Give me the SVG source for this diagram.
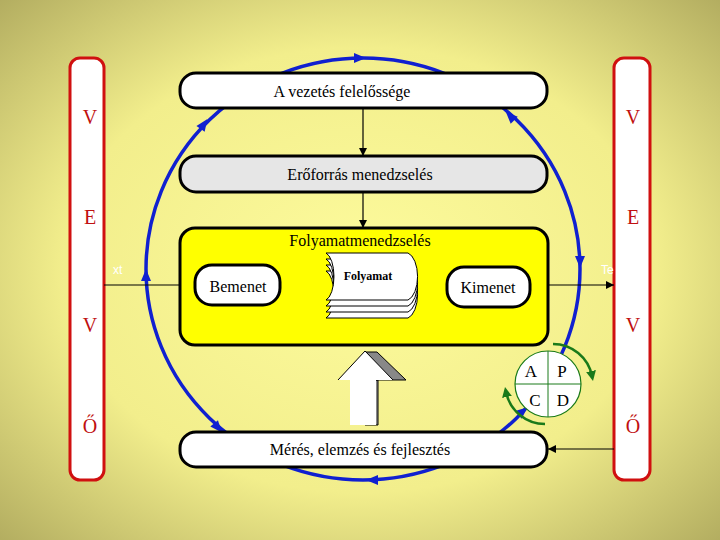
<svg xmlns="http://www.w3.org/2000/svg" width="720" height="540" viewBox="0 0 720 540">
<defs>
<radialGradient id="bg" cx="0.5" cy="0.5" r="0.75">
<stop offset="0" stop-color="#fdfb9c"/><stop offset="0.55" stop-color="#f2ee8c"/><stop offset="1" stop-color="#aaa45a"/>
</radialGradient>
<marker id="ah" viewBox="0 0 10 10" refX="10" refY="5" markerWidth="7" markerHeight="7" orient="auto"><path d="M0,0L10,5L0,10z" fill="#000"/></marker>
<marker id="gh" viewBox="0 0 10 10" refX="5" refY="5" markerWidth="4" markerHeight="4" orient="auto"><path d="M0,0L10,5L0,10z" fill="#1a7a1a"/></marker>
<path id="bt" d="M-6,-5L6,0L-6,5z" fill="#1020d0"/>
</defs>
<style>
text{font-family:"Liberation Serif","DejaVu Serif",serif}
.t{font-size:16px;fill:#000;text-anchor:middle}
.r{font-size:20px;fill:#c01010;text-anchor:middle}
.box{stroke:#000;stroke-width:3;fill:#fff}
.ln{stroke:#000;stroke-width:1.2;fill:none;marker-end:url(#ah)}
.bar{fill:#fff;stroke:#d01010;stroke-width:3}
.s{font-family:"Liberation Sans",sans-serif;font-size:12px;fill:#fff}
</style>
<rect width="720" height="540" fill="url(#bg)"/>
<g id="loop">
<ellipse cx="363" cy="269" rx="217" ry="211" fill="none" stroke="#1020d0" stroke-width="3.5"/>
<use href="#bt" transform="translate(360,58)"/>
<use href="#bt" transform="translate(204,124) rotate(-55)"/>
<use href="#bt" transform="translate(146,275) rotate(-90)"/>
<use href="#bt" transform="translate(218,428) rotate(50)"/>
<use href="#bt" transform="translate(372,480) rotate(180)"/>
<use href="#bt" transform="translate(523,411) rotate(-40)"/>
<use href="#bt" transform="translate(580,262) rotate(90)"/>
<use href="#bt" transform="translate(510,116) rotate(-135)"/>
</g>
<g id="bars">
<rect class="bar" x="70" y="58" width="34" height="422" rx="10"/>
<rect class="bar" x="614" y="58" width="36" height="422" rx="10"/>
<text class="r" x="90" y="124">V</text><text class="r" x="90" y="224">E</text><text class="r" x="90" y="332">V</text><text class="r" x="90" y="433">Ő</text>
<text class="r" x="633" y="124">V</text><text class="r" x="633" y="224">E</text><text class="r" x="633" y="332">V</text><text class="r" x="633" y="433">Ő</text>
<text class="s" x="113" y="274">xt</text>
<text class="s" x="601" y="274">Te</text>
</g>
<g id="connectors">
<line class="ln" x1="363" y1="108" x2="363" y2="156"/>
<line class="ln" x1="363" y1="192" x2="363" y2="228"/>
<line class="ln" x1="104" y1="285" x2="195" y2="285"/>
<line class="ln" x1="280" y1="285" x2="330" y2="285"/>
<line class="ln" x1="413" y1="285" x2="447" y2="285"/>
<line class="ln" x1="530" y1="285" x2="614" y2="285"/>
<line class="ln" x1="614" y1="449" x2="548" y2="449"/>
</g>
<g id="top"><rect class="box" x="180" y="73" width="367" height="35" rx="16"/><text class="t" x="342" y="97">A vezetés felelőssége</text></g>
<g id="eroforras"><rect class="box" x="180" y="156" width="367" height="36" rx="16" style="fill:#e6e6e6"/><text class="t" x="360" y="180">Erőforrás menedzselés</text></g>
<g id="folyamatmenedzseles"><rect class="box" x="180" y="228" width="368" height="117" rx="15" style="fill:#ffff00"/><text class="t" x="360" y="246">Folyamatmenedzselés</text></g>
<g id="bemenet"><rect class="box" x="195" y="265" width="85" height="40" rx="17"/><text class="t" x="238" y="292">Bemenet</text></g>
<g id="folyamat" stroke="#000" stroke-width="1" fill="#fff">
<path d="M326,271h82a12,24 0 0 1 0,47h-82a10,24 0 0 0 0,-47z"/>
<path d="M326,265h82a12,24 0 0 1 0,47h-82a10,24 0 0 0 0,-47z"/>
<path d="M326,259h82a12,24 0 0 1 0,47h-82a10,24 0 0 0 0,-47z"/>
<path d="M326,253h82a12,24 0 0 1 0,47h-82a10,24 0 0 0 0,-47z"/>
<text x="368" y="280" font-size="12" font-weight="bold" text-anchor="middle" fill="#000" stroke="none">Folyamat</text>
</g>
<g id="kimenet"><rect class="box" x="447" y="267" width="83" height="40" rx="17"/><text class="t" x="488" y="293">Kimenet</text></g>
<g id="meres"><rect class="box" x="180" y="432" width="367" height="35" rx="16"/><text class="t" x="360" y="455">Mérés, elemzés és fejlesztés</text></g>
<g id="bigarrow">
<path d="M378,425V380h-2l30,0l-29,-28h-12v73z" fill="#888" stroke="#000" stroke-width="1"/>
<path d="M350,425V380h-12l27,-29l28,29h-17v45z" fill="#fff" stroke="none"/>
<path d="M338,380l27,-29l28,29" fill="none" stroke="#000" stroke-width="1"/>
</g>
<g id="pdca">
<circle cx="548" cy="384" r="33" fill="#fff" stroke="#1a7a1a" stroke-width="1.2"/>
<line x1="548" y1="351" x2="548" y2="417" stroke="#1a7a1a"/><line x1="515" y1="384" x2="581" y2="384" stroke="#1a7a1a"/>
<text class="t" x="531" y="377" style="font-size:17px">A</text><text class="t" x="562" y="377" style="font-size:17px">P</text>
<text class="t" x="535" y="406" style="font-size:17px">C</text><text class="t" x="563" y="406" style="font-size:17px">D</text>
<path d="M553,344A40,40 0 0 1 592,376" fill="none" stroke="#1a7a1a" stroke-width="2.5" marker-end="url(#gh)"/>
<path d="M545,424A40,40 0 0 1 506,392" fill="none" stroke="#1a7a1a" stroke-width="2.5" marker-end="url(#gh)"/>
</g>
</svg>
